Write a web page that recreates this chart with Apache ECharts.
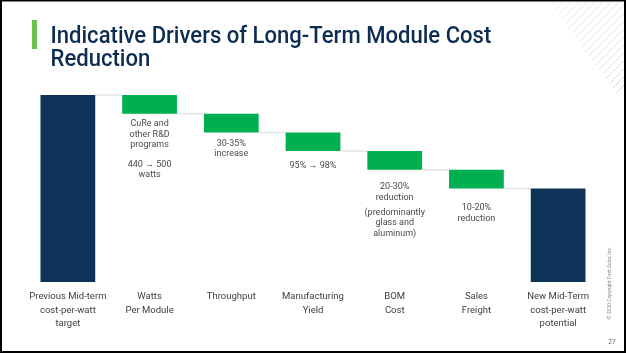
<!DOCTYPE html>
<html>
<head>
<meta charset="utf-8">
<script src="https://cdn.jsdelivr.net/npm/echarts@6/dist/echarts.min.js"></script>
<style>
  html, body { margin: 0; padding: 0; background: #fff; }
  #main { width: 626px; height: 353px; }
</style>
</head>
<body>
<div id="main"></div>
<script>
// 数据
const categories = ['Previous Mid-term\ncost-per-watt\ntarget', 'Watts\nPer Module', 'Throughput',
    'Manufacturing\nYield', 'BOM\nCost', 'Sales\nFreight', 'New Mid-Term\ncost-per-watt\npotential'];
const startTotal = 100;
const drops = [10, 10, 10, 10, 10];
const endTotal = 50;
const notes = ['CuRe and\nother R&D\nprograms\n\n440 → 500\nwatts', '30-35%\nincrease', '95% → 98%',
    '20-30%\nreduction\n\n(predominantly\nglass and\naluminum)', '10-20%\nreduction'];

// 样式
const navy = '#0e3358';
const green = '#00b050';
const noteGap = [5, 6, 9, 12, 14];
const paraGap = [9, 0, 0, 4.5, 0];

const chart = echarts.init(document.getElementById('main'));

// 瀑布图：透明底座 + 实际柱子
const baseData = [0];
const barData = [{ value: startTotal, itemStyle: { color: navy } }];
const levels = [startTotal];
let run = startTotal;
drops.forEach(function (d, i) {
    run -= d;
    baseData.push(run);
    barData.push({
        value: d,
        itemStyle: { color: green },
        label: {
            show: true,
            position: 'bottom',
            distance: noteGap[i],
            formatter: notes[i].split('\n\n').join('\n{p| }\n'),
            rich: { p: { lineHeight: paraGap[i], fontSize: 4 } }
        }
    });
    levels.push(run);
});
baseData.push(0);
barData.push({ value: endTotal, itemStyle: { color: navy } });

const connectors = levels.map(function (v, i) { return [i, v]; });

// 右上角斜线装饰
const hatch = [];
for (let c = 549; c <= 713; c += 8) {
    const y0 = (c - 547) / 1.75;
    const x0 = c - y0;
    let x1 = c, y1 = 0;
    if (c > 624) { x1 = 624; y1 = c - 624; }
    hatch.push({
        type: 'line',
        shape: { x1: x0, y1: y0, x2: x1, y2: y1 },
        style: { stroke: '#c8c8c8', lineWidth: 0.8, opacity: 0.35 + 0.6 * (c - 549) / 164 },
        silent: true
    });
}

const option = {
    animation: false,
    grid: { left: 27, right: 27, top: 95, bottom: 71 },
    xAxis: {
        type: 'category',
        data: categories,
        axisLine: { show: false },
        axisTick: { show: false },
        axisLabel: {
            interval: 0,
            margin: 8,
            color: '#404040',
            fontFamily: 'Roboto',
            fontSize: 9.5,
            lineHeight: 13.5
        }
    },
    yAxis: {
        type: 'value',
        min: 0,
        max: 100,
        show: false,
        splitLine: { show: false }
    },
    series: [
        {
            type: 'bar',
            stack: 'wf',
            data: baseData,
            itemStyle: { color: 'transparent' },
            silent: true
        },
        {
            type: 'bar',
            stack: 'wf',
            barWidth: '67%',
            data: barData,
            label: {
                color: '#4a4a4a',
                fontFamily: 'Roboto',
                fontSize: 9,
                lineHeight: 10.5
            }
        },
        {
            type: 'custom',
            data: connectors,
            z: 1,
            renderItem: function (params, api) {
                const p = api.coord([api.value(0), api.value(1)]);
                const w = api.size([1, 0])[0];
                const half = w * 0.67 / 2;
                return {
                    type: 'line',
                    shape: { x1: p[0] + half, y1: p[1], x2: p[0] + w - half, y2: p[1] },
                    style: { stroke: '#e4e4e4', lineWidth: 1.5 }
                };
            }
        }
    ],
    graphic: hatch.concat([
        {
            type: 'rect',
            shape: { x: 32, y: 20, width: 5, height: 29 },
            style: { fill: '#6cc24a' }
        },
        {
            type: 'text',
            x: 50.5, y: 36.5,
            scaleX: 0.92,
            style: {
                text: 'Indicative Drivers of Long-Term Module Cost',
                font: '500 24px Roboto',
                fill: '#0c2c52',
                verticalAlign: 'middle'
            }
        },
        {
            type: 'text',
            x: 50.5, y: 60,
            scaleX: 0.92,
            style: {
                text: 'Reduction',
                font: '500 24px Roboto',
                fill: '#0c2c52',
                verticalAlign: 'middle'
            }
        },
        {
            type: 'text',
            x: 610, y: 283,
            rotation: Math.PI / 2,
            style: {
                text: '© 2020 Copyright First Solar, Inc.',
                font: '5px Roboto',
                fill: '#8a8a8a',
                align: 'center',
                verticalAlign: 'middle'
            }
        },
        {
            type: 'text',
            x: 612, y: 342,
            style: {
                text: '27',
                font: '6.5px Roboto',
                fill: '#6a6a6a',
                align: 'center',
                verticalAlign: 'middle'
            }
        },
        {
            type: 'rect',
            shape: { x: 1, y: 0.5, width: 624, height: 351.5 },
            style: { fill: 'none', stroke: '#000', lineWidth: 2 },
            silent: true
        }
    ])
};
chart.setOption(option);
</script>
</body>
</html>
